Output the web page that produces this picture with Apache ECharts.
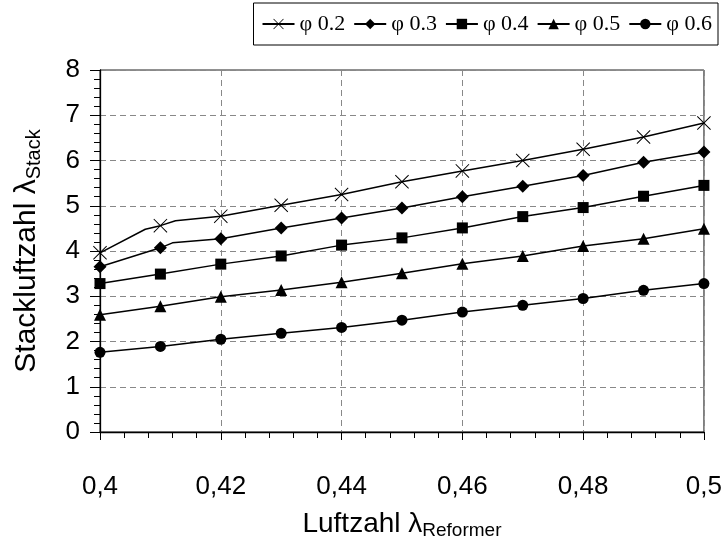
<!DOCTYPE html>
<html>
<head>
<meta charset="utf-8">
<script src="https://cdn.jsdelivr.net/npm/echarts@6/dist/echarts.min.js"></script>
<style>
html,body{margin:0;padding:0;background:#fff;}
#chart{width:725px;height:545px;}
</style>
</head>
<body>
<div id="chart"></div>
<script>
// Data
const xValues = [0.40, 0.41, 0.42, 0.43, 0.44, 0.45, 0.46, 0.47, 0.48, 0.49, 0.50];
const seriesNames = ['φ 0.2', 'φ 0.3', 'φ 0.4', 'φ 0.5', 'φ 0.6'];
const phi02 = [3.96, 4.56, 4.77, 5.01, 5.25, 5.53, 5.77, 6.00, 6.25, 6.52, 6.83];
const phi03 = [3.65, 4.07, 4.27, 4.51, 4.73, 4.95, 5.20, 5.43, 5.67, 5.96, 6.19];
const phi04 = [3.28, 3.49, 3.71, 3.89, 4.13, 4.29, 4.51, 4.76, 4.96, 5.21, 5.45];
const phi05 = [2.59, 2.78, 2.99, 3.14, 3.31, 3.51, 3.72, 3.89, 4.11, 4.27, 4.49];
const phi06 = [1.76, 1.89, 2.05, 2.18, 2.31, 2.47, 2.65, 2.80, 2.95, 3.13, 3.28];
// extra line vertices (no marker) visible as bends in the reference
const phi02Bends = [[0.4075, 4.48], [0.4125, 4.67]];
const phi03Bends = [[0.412, 4.18]];
const xTicks = ['0,4', '0,42', '0,44', '0,46', '0,48', '0,5'];

const xSymbol = 'path://M0,1 L1,0 L10,9 L19,0 L20,1 L11,10 L20,19 L19,20 L10,11 L1,20 L0,19 L9,10 Z';
const symbols = [xSymbol, 'diamond', 'rect', 'triangle', 'circle'];
const symbolSizes = [14, 13, 11, 12, 11];

function buildData(vals, bends) {
  const pts = xValues.map((x, i) => ({ value: [x, vals[i]] }));
  (bends || []).forEach(b => pts.push({ value: b, symbol: 'none' }));
  pts.sort((a, b) => a.value[0] - b.value[0]);
  return pts;
}
const allVals = [phi02, phi03, phi04, phi05, phi06];
const allBends = [phi02Bends, phi03Bends, [], [], []];

const series = seriesNames.map((name, i) => ({
  name: name,
  type: 'line',
  data: buildData(allVals[i], allBends[i]),
  symbol: symbols[i],
  symbolSize: symbolSizes[i],
  showAllSymbol: true,
  clip: false,
  lineStyle: { color: '#000', width: 1.5 },
  itemStyle: { color: '#000', borderWidth: 0 },
  emphasis: { disabled: true },
  z: 3
}));

const chart = echarts.init(document.getElementById('chart'), null, { renderer: 'canvas' });
chart.setOption({
  animation: false,
  backgroundColor: '#fff',
  textStyle: { fontFamily: 'Liberation Sans, Arial, sans-serif', color: '#000' },
  legend: {
    right: 7, top: 3,
    padding: [10, 6, 10, 8],
    itemGap: 8,
    itemWidth: 32, itemHeight: 13,
    borderColor: '#000', borderWidth: 1,
    textStyle: { fontFamily: 'Liberation Serif, Times New Roman, serif', fontSize: 22, color: '#000' },
    data: seriesNames
  },
  grid: {
    left: 100, right: 21, top: 70, bottom: 112,
    show: true, borderColor: '#222', borderWidth: 1
  },
  xAxis: {
    type: 'value', min: 0.4, max: 0.5, interval: 0.02,
    name: '{a|Luftzahl λ}{b|Reformer}',
    nameLocation: 'middle', nameGap: 76,
    nameTextStyle: { rich: {
      a: { fontSize: 28, fontFamily: 'Liberation Sans', color: '#000', lineHeight: 32 },
      b: { fontSize: 19, fontFamily: 'Liberation Sans', color: '#000', verticalAlign: 'bottom', lineHeight: 20 }
    } },
    axisLine: { show: true, onZero: false, lineStyle: { color: '#000', width: 1.3 } },
    axisTick: { show: true, inside: false, length: 8, lineStyle: { color: '#000' } },
    minorTick: { show: true, splitNumber: 5, length: 6, lineStyle: { color: '#000' } },
    axisLabel: { margin: 42, fontSize: 26, color: '#000',
      formatter: v => xTicks[Math.round((v - 0.4) / 0.02)] },
    splitLine: { show: true, lineStyle: { color: '#888', type: [6, 4], width: 1 } }
  },
  yAxis: {
    type: 'value', min: 0, max: 8, interval: 1,
    name: '{a|Stackluftzahl λ}{b|Stack}',
    nameLocation: 'middle', nameGap: 56, nameRotate: 90,
    nameTextStyle: { rich: {
      a: { fontSize: 30, fontFamily: 'Liberation Sans', color: '#000', lineHeight: 34 },
      b: { fontSize: 20, fontFamily: 'Liberation Sans', color: '#000', verticalAlign: 'bottom', lineHeight: 21 }
    } },
    axisLine: { show: true, onZero: false, lineStyle: { color: '#000', width: 1.3 } },
    axisTick: { show: true, inside: false, length: 10, lineStyle: { color: '#000' } },
    minorTick: { show: true, splitNumber: 5, length: 6, lineStyle: { color: '#000' } },
    axisLabel: { margin: 20, fontSize: 26, color: '#000' },
    splitLine: { show: true, lineStyle: { color: '#888', type: [6, 4], width: 1 } }
  },
  series: series
});
</script>
</body>
</html>
